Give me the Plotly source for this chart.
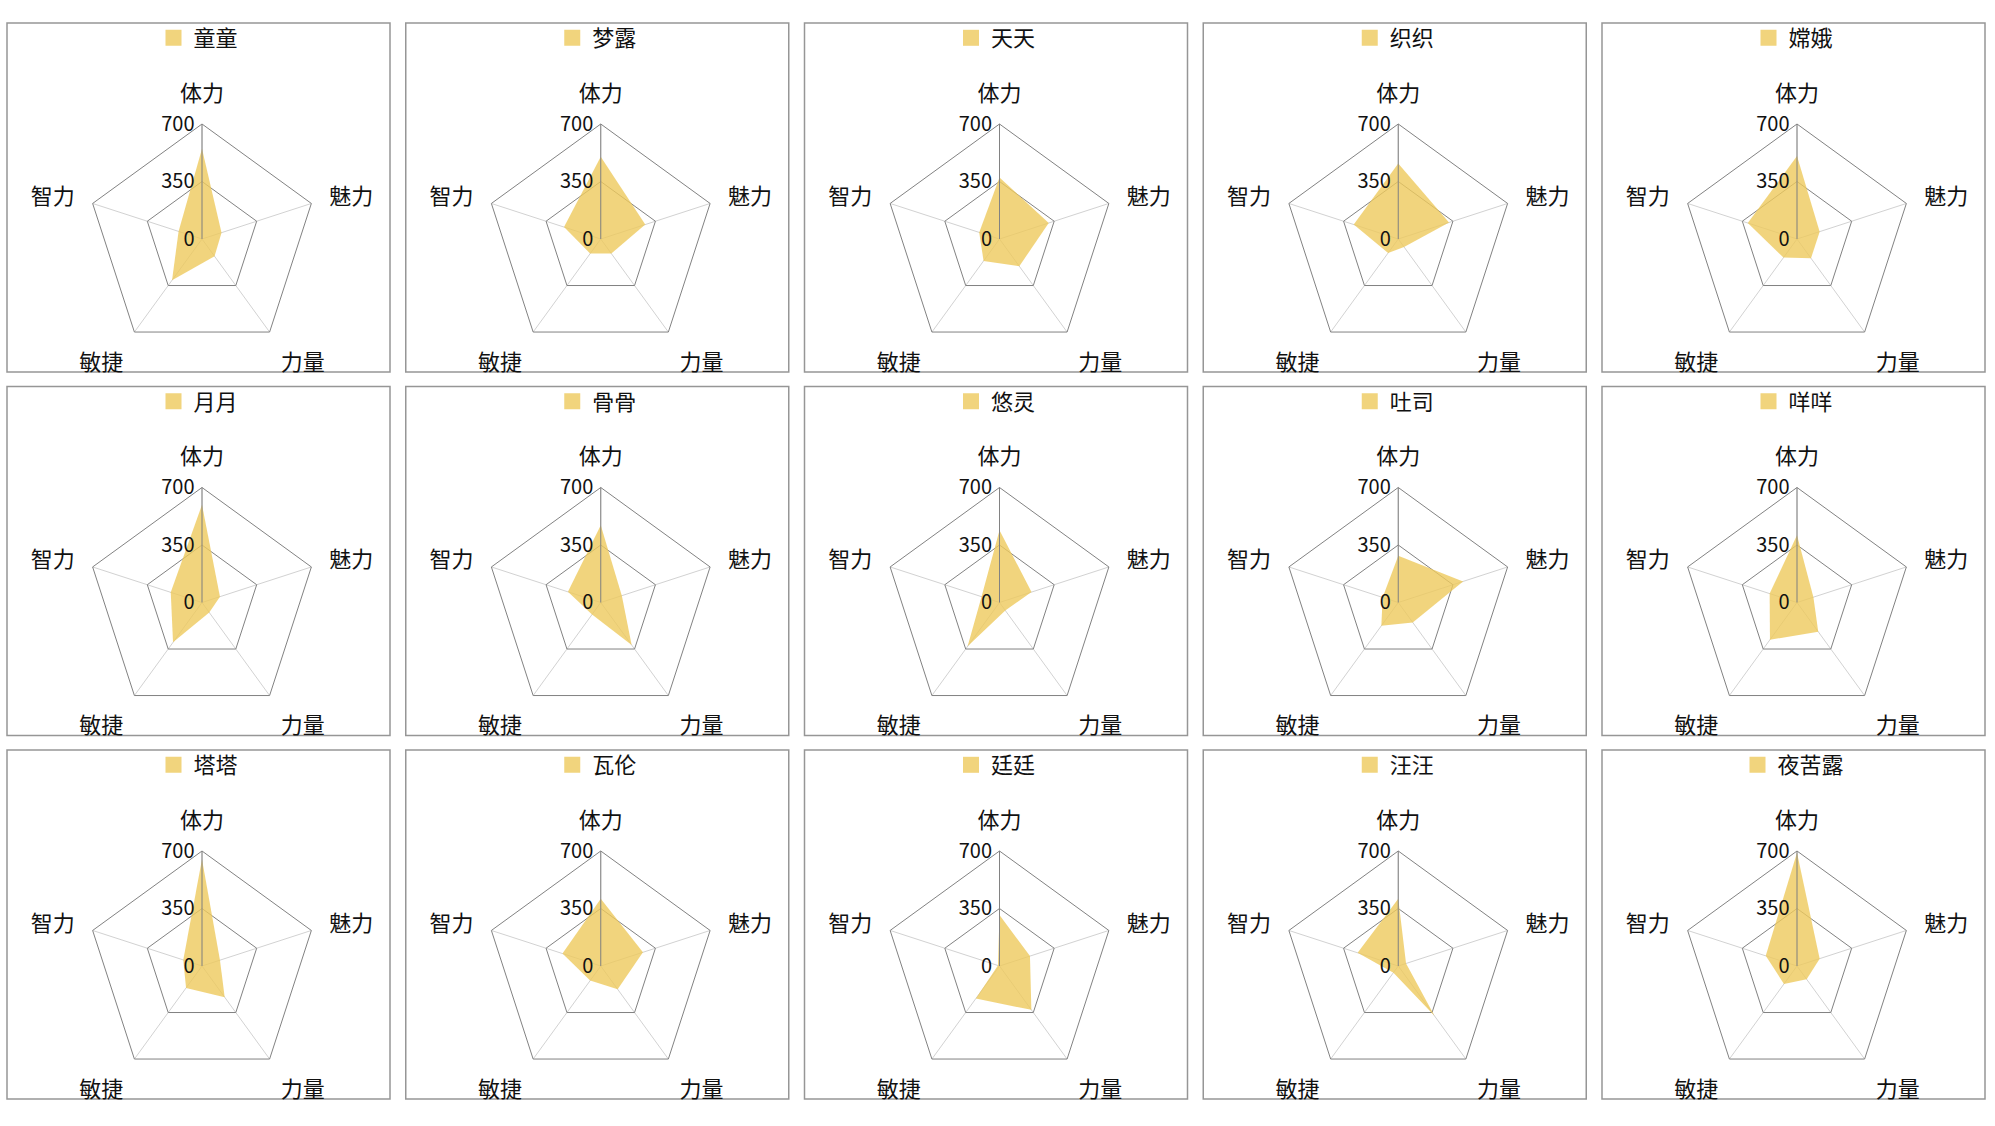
import plotly.graph_objects as go

# ---- data ----
names = ["童童", "梦露", "天天", "织织", "嫦娥",
         "月月", "骨骨", "悠灵", "吐司", "咩咩",
         "塔塔", "瓦伦", "廷廷", "汪汪", "夜苦露"]
dims = ["体力", "魅力", "力量", "敏捷", "智力"]
tili    = [550, 500, 375, 460, 505, 595, 470, 440, 285, 410, 650, 410, 310, 410, 690]
meili   = [125, 285, 315, 325, 145, 115, 135, 205, 415, 105, 115, 270, 195, 50, 145]
liliang = [130, 110, 205, 60, 145, 75, 320, 60, 150, 220, 235, 175, 330, 375, 100]
minjie  = [310, 110, 165, 105, 140, 300, 90, 330, 175, 280, 165, 110, 245, 50, 135]
zhili   = [150, 235, 130, 285, 315, 200, 210, 115, 100, 175, 120, 245, 10, 260, 200]
radial_ticks = [0, 350, 700]

# ---- style / layout constants ----
W, H = 1995, 1126
FONT = "Noto Sans CJK SC, Noto Sans, sans-serif"
FILL = "rgba(238,201,93,0.8)"
LEG = "rgb(241,212,125)"
GRID_DARK = "rgb(130,130,130)"
GRID_LIGHT = "rgb(210,210,210)"
BOX = "rgb(150,150,150)"
R = 115
BOX_W, BOX_H = 383, 349

fig = go.Figure()
layout = dict(
    width=W, height=H, autosize=False,
    margin=dict(l=0, r=0, t=0, b=0),
    paper_bgcolor="white", plot_bgcolor="white",
    font=dict(family=FONT, color="#222"),
    shapes=[],
)

for k, nm in enumerate(names):
    i, j = k % 5, k // 5
    bl = 7 + 398.75 * i
    bt = 23 + 363.5 * j
    cx = bl + 195
    cy = bt + 216
    sid = "polar" if k == 0 else f"polar{k+1}"
    lid = "legend" if k == 0 else f"legend{k+1}"
    vals = [tili[k], meili[k], liliang[k], minjie[k], zhili[k]]
    fig.add_trace(go.Scatterpolar(
        r=vals + [vals[0]], theta=dims + [dims[0]],
        mode="none", fill="toself", fillcolor=FILL,
        subplot=sid, showlegend=False, hoverinfo="skip", name=nm,
    ))
    fig.add_trace(go.Scatterpolar(
        r=[None], theta=[dims[0]], mode="markers",
        marker=dict(symbol="square", size=17, color=LEG),
        subplot=sid, legend=lid, showlegend=True, name=nm,
    ))
    layout[sid] = dict(
        domain=dict(x=[(cx - R) / W, (cx + R) / W],
                    y=[1 - (cy + R) / H, 1 - (cy - R) / H]),
        gridshape="linear",
        bgcolor="rgba(0,0,0,0)",
        radialaxis=dict(
            range=[0, 700], tickvals=radial_ticks, angle=90,
            side="counterclockwise", tickangle=90,
            showline=True, linecolor=GRID_DARK, linewidth=1,
            gridcolor=GRID_DARK, gridwidth=1, ticks="",
            tickfont=dict(size=20, color="#111", family=FONT),
        ),
        angularaxis=dict(
            categoryorder="array", categoryarray=dims,
            rotation=90, direction="clockwise",
            showline=True, linecolor=GRID_DARK, linewidth=1,
            gridcolor=GRID_LIGHT, gridwidth=1,
            ticks="outside", ticklen=14, tickcolor="rgba(0,0,0,0)",
            tickfont=dict(size=22, color="#111", family=FONT),
        ),
    )
    layout[lid] = dict(
        x=(bl + BOX_W / 2) / W, y=1 - (bt + 15) / H,
        xanchor="center", yanchor="middle", orientation="h",
        bgcolor="rgba(0,0,0,0)",
        font=dict(size=22, color="#111", family=FONT),
    )
    layout["shapes"].append(dict(
        type="rect", xref="paper", yref="paper",
        x0=bl / W, x1=(bl + BOX_W) / W,
        y0=1 - (bt + BOX_H) / H, y1=1 - bt / H,
        line=dict(color=BOX, width=1.5), layer="below",
    ))

fig.update_layout(**layout)
fig.write_html("out.html", config={"displayModeBar": False},
               post_script="document.body.style.margin='0';")
